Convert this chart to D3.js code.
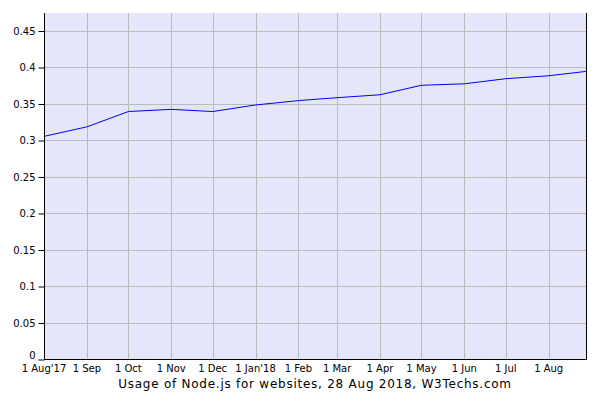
<!DOCTYPE html>
<html>
<head>
<meta charset="utf-8">
<script src="https://cdn.jsdelivr.net/npm/d3@7"></script>
<style>
  body { margin: 0; background: #fff; }
  svg text { font-family: "DejaVu Sans", Verdana, sans-serif; fill: #000; }
</style>
</head>
<body>
<svg id="chart" width="606" height="404"></svg>
<script>
// DATA
const dates = ["2017-08-01", "2017-09-01", "2017-10-01", "2017-11-01", "2017-12-01",
  "2018-01-01", "2018-02-01", "2018-03-01", "2018-04-01", "2018-05-01",
  "2018-06-01", "2018-07-01", "2018-08-01", "2018-08-28"];
const usage = [0.305, 0.318, 0.339, 0.342, 0.339, 0.348, 0.354, 0.358, 0.362,
  0.375, 0.377, 0.384, 0.388, 0.394];
const yTicks = [0, 0.05, 0.1, 0.15, 0.2, 0.25, 0.3, 0.35, 0.4, 0.45];
const monthTicks = ["2017-08-01", "2017-09-01", "2017-10-01", "2017-11-01", "2017-12-01",
  "2018-01-01", "2018-02-01", "2018-03-01", "2018-04-01", "2018-05-01",
  "2018-06-01", "2018-07-01", "2018-08-01"];
const monthLabels = ["1 Aug'17", "1 Sep", "1 Oct", "1 Nov", "1 Dec", "1 Jan'18",
  "1 Feb", "1 Mar", "1 Apr", "1 May", "1 Jun", "1 Jul", "1 Aug"];
const title = "Usage of Node.js for websites, 28 Aug 2018, W3Techs.com";

const parse = d3.utcParse("%Y-%m-%d");
const data = dates.map((d, i) => ({date: parse(d), value: usage[i]}));
const tickDates = monthTicks.map(parse);

const margin = {top: 13, right: 20, bottom: 45, left: 44};
const width = 606, height = 404;

const svg = d3.select("#chart");

/* SCALES */
const x = d3.scaleUtc()
  .domain([parse("2017-08-01"), parse("2018-08-28")])
  .range([margin.left, width - margin.right]);

const y = d3.scaleLinear()
  .domain([0, 0.474])
  .range([height - margin.bottom, margin.top]);

// plot background
svg.append("rect")
  .attr("x", margin.left)
  .attr("y", margin.top)
  .attr("width", x.range()[1] - margin.left)
  .attr("height", y(0) - margin.top)
  .attr("fill", "#e6e6fa");

// GRID
svg.append("g")
  .selectAll("line")
  .data(yTicks.filter(d => d > 0))
  .join("line")
  .attr("x1", margin.left)
  .attr("x2", x.range()[1])
  .attr("y1", d => Math.round(y(d)) + 0.5)
  .attr("y2", d => Math.round(y(d)) + 0.5)
  .attr("stroke", "#bbbbbb");

svg.append("g")
  .selectAll("line")
  .data(tickDates.slice(1))
  .join("line")
  .attr("x1", d => Math.round(x(d)) + 0.5)
  .attr("x2", d => Math.round(x(d)) + 0.5)
  .attr("y1", margin.top)
  .attr("y2", y(0))
  .attr("stroke", "#bbbbbb");

// LINE
svg.append("path")
  .datum(data)
  .attr("fill", "none")
  .attr("stroke", "#0000ff")
  .attr("stroke-width", 1)
  .attr("d", d3.line().x(d => x(d.date)).y(d => y(d.value)));

// AXES
const yAxis = svg.append("g")
  .attr("transform", `translate(${margin.left + 0.5}, 0.5)`)
  .call(d3.axisLeft(y).tickValues(yTicks).tickFormat(d => d3.format("")(d)).tickSize(6).tickPadding(3).tickSizeOuter(0));
yAxis.select(".domain").remove();
yAxis.selectAll("text").attr("font-size", 10).style("font-family", "DejaVu Sans, sans-serif");
yAxis.selectAll("line").attr("stroke", "#000");
// the zero label sits a little above its tick
yAxis.selectAll("text").filter(d => d === 0).attr("dy", "-0.1em");

svg.append("line")
  .attr("x1", margin.left + 0.5).attr("x2", margin.left + 0.5)
  .attr("y1", margin.top).attr("y2", y(0) + 0.5)
  .attr("stroke", "#000");
svg.append("line")
  .attr("x1", x.range()[1] + 0.5).attr("x2", x.range()[1] + 0.5)
  .attr("y1", margin.top).attr("y2", y(0) + 0.5)
  .attr("stroke", "#000");
svg.append("line")
  .attr("x1", margin.left).attr("x2", x.range()[1] + 1)
  .attr("y1", Math.round(y(0)) + 0.5).attr("y2", Math.round(y(0)) + 0.5)
  .attr("stroke", "#000");

svg.append("g")
  .selectAll("text")
  .data(tickDates)
  .join("text")
  .attr("x", d => x(d))
  .attr("y", 372)
  .attr("text-anchor", "middle")
  .attr("font-size", 10)
  .text((d, i) => monthLabels[i]);

// TITLE
svg.append("text")
  .attr("x", (margin.left + x.range()[1]) / 2)
  .attr("y", 388)
  .attr("text-anchor", "middle")
  .attr("font-size", 12)
  .attr("letter-spacing", "0.75px")
  .text(title);
</script>
</body>
</html>
